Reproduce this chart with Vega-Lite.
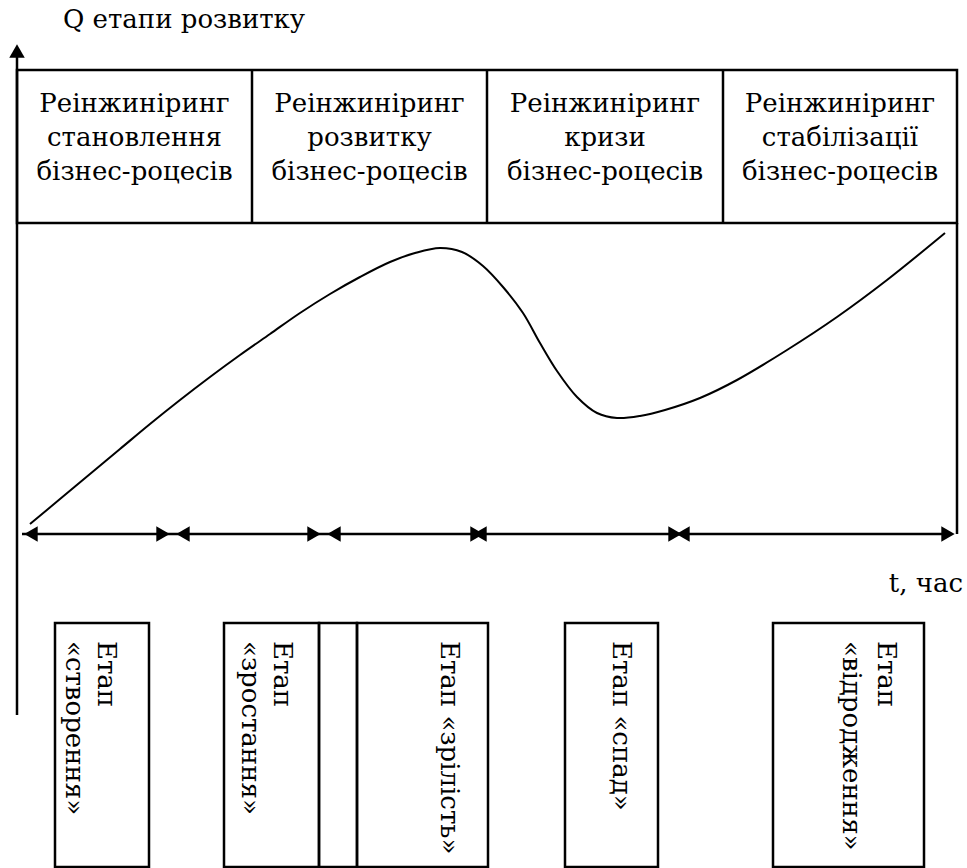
{
  "$schema": "https://vega.github.io/schema/vega-lite/v6.json",
  "width": 967,
  "height": 868,
  "padding": 0,
  "autosize": "none",
  "background": "white",
  "config": {"view": {"stroke": null}},
  "datasets": {
    "curve": [
      {"x": 30, "y": 524}, {"x": 60, "y": 499}, {"x": 90, "y": 474}, {"x": 120, "y": 449},
      {"x": 150, "y": 424}, {"x": 180, "y": 400}, {"x": 210, "y": 377}, {"x": 240, "y": 355},
      {"x": 270, "y": 334}, {"x": 300, "y": 313}, {"x": 330, "y": 294}, {"x": 360, "y": 277},
      {"x": 390, "y": 262}, {"x": 415, "y": 253}, {"x": 440, "y": 248}, {"x": 462, "y": 252},
      {"x": 483, "y": 266}, {"x": 503, "y": 287}, {"x": 523, "y": 313}, {"x": 540, "y": 343},
      {"x": 557, "y": 371}, {"x": 577, "y": 397}, {"x": 597, "y": 413}, {"x": 617, "y": 418},
      {"x": 640, "y": 416}, {"x": 665, "y": 410}, {"x": 700, "y": 398}, {"x": 737, "y": 380},
      {"x": 787, "y": 350}, {"x": 837, "y": 317}, {"x": 887, "y": 280}, {"x": 945, "y": 233}
    ],
    "rules": [
      {"x": 17, "y": 50, "x2": 17, "y2": 715},
      {"x": 252, "y": 70, "x2": 252, "y2": 223},
      {"x": 487, "y": 70, "x2": 487, "y2": 223},
      {"x": 723, "y": 70, "x2": 723, "y2": 223},
      {"x": 957, "y": 223, "x2": 957, "y2": 534},
      {"x": 22, "y": 534, "x2": 950, "y2": 534}
    ],
    "rects": [
      {"x": 17, "x2": 957, "y": 70, "y2": 223},
      {"x": 55, "x2": 149, "y": 623, "y2": 867},
      {"x": 224, "x2": 319, "y": 623, "y2": 867},
      {"x": 319, "x2": 357, "y": 623, "y2": 867},
      {"x": 357, "x2": 488, "y": 623, "y2": 867},
      {"x": 565, "x2": 658, "y": 623, "y2": 867},
      {"x": 773, "x2": 924, "y": 623, "y2": 867}
    ],
    "arrows": [
      {"x": 17, "y": 51, "dir": "up"},
      {"x": 31, "y": 534, "dir": "left"},
      {"x": 163, "y": 534, "dir": "right"},
      {"x": 183, "y": 534, "dir": "left"},
      {"x": 314, "y": 534, "dir": "right"},
      {"x": 334, "y": 534, "dir": "left"},
      {"x": 477, "y": 534, "dir": "right"},
      {"x": 480, "y": 534, "dir": "left"},
      {"x": 675, "y": 534, "dir": "right"},
      {"x": 683, "y": 534, "dir": "left"},
      {"x": 948, "y": 534, "dir": "right"}
    ],
    "toplabels": [
      {"x": 134.5, "y": 112, "t": "Реінжиніринг"},
      {"x": 134.5, "y": 146, "t": "становлення"},
      {"x": 134.5, "y": 180, "t": "бізнес-роцесів"},
      {"x": 369.5, "y": 112, "t": "Реінжиніринг"},
      {"x": 369.5, "y": 146, "t": "розвитку"},
      {"x": 369.5, "y": 180, "t": "бізнес-роцесів"},
      {"x": 605, "y": 112, "t": "Реінжиніринг"},
      {"x": 605, "y": 146, "t": "кризи"},
      {"x": 605, "y": 180, "t": "бізнес-роцесів"},
      {"x": 840, "y": 112, "t": "Реінжиніринг"},
      {"x": 840, "y": 146, "t": "стабілізації"},
      {"x": 840, "y": 180, "t": "бізнес-роцесів"}
    ],
    "stagelabels": [
      {"x": 98, "y": 641, "t": "Етап"},
      {"x": 66, "y": 641, "t": "«створення»"},
      {"x": 274, "y": 641, "t": "Етап"},
      {"x": 242, "y": 641, "t": "«зростання»"},
      {"x": 441, "y": 641, "t": "Етап «зрілість»"},
      {"x": 613, "y": 641, "t": "Етап «спад»"},
      {"x": 878, "y": 641, "t": "Етап"},
      {"x": 843, "y": 641, "t": "«відродження»"}
    ],
    "titleL": [
      {"x": 63, "y": 28, "t": "Q етапи розвитку"}
    ],
    "titleR": [
      {"x": 963, "y": 592, "t": "t, час"}
    ]
  },
  "encoding": {
    "x": {"field": "x", "type": "quantitative", "scale": {"domain": [0, 967], "nice": false, "zero": false}, "axis": null},
    "y": {"field": "y", "type": "quantitative", "scale": {"domain": [0, 868], "nice": false, "zero": false, "reverse": true}, "axis": null}
  },
  "layer": [
    {
      "data": {"name": "rects"},
      "mark": {"type": "rect", "fill": null, "fillOpacity": 0, "stroke": "black", "strokeWidth": 2.5},
      "encoding": {
        "x2": {"field": "x2"},
        "y2": {"field": "y2"}
      }
    },
    {
      "data": {"name": "rules"},
      "mark": {"type": "rule", "stroke": "black", "strokeWidth": 2.5},
      "encoding": {
        "x2": {"field": "x2"},
        "y2": {"field": "y2"}
      }
    },
    {
      "data": {"name": "curve"},
      "mark": {"type": "line", "stroke": "black", "strokeWidth": 2, "interpolate": "catmull-rom"},
      "encoding": {}
    },
    {
      "data": {"name": "arrows"},
      "mark": {"type": "point", "filled": true, "color": "black", "opacity": 1, "size": 240, "strokeWidth": 0},
      "encoding": {
        "shape": {"field": "dir", "type": "nominal", "scale": {"domain": ["left", "right", "up"], "range": ["triangle-left", "triangle-right", "triangle-up"]}, "legend": null}
      }
    },
    {
      "data": {"name": "toplabels"},
      "mark": {"type": "text", "font": "DejaVu Serif", "fontSize": 26, "align": "center", "baseline": "alphabetic", "color": "black"},
      "encoding": {"text": {"field": "t"}}
    },
    {
      "data": {"name": "stagelabels"},
      "mark": {"type": "text", "font": "DejaVu Serif", "fontSize": 26, "align": "left", "baseline": "alphabetic", "angle": 90, "color": "black"},
      "encoding": {"text": {"field": "t"}}
    },
    {
      "data": {"name": "titleL"},
      "mark": {"type": "text", "font": "DejaVu Serif", "fontSize": 26, "align": "left", "baseline": "alphabetic", "color": "black"},
      "encoding": {"text": {"field": "t"}}
    },
    {
      "data": {"name": "titleR"},
      "mark": {"type": "text", "font": "DejaVu Serif", "fontSize": 26, "align": "right", "baseline": "alphabetic", "color": "black"},
      "encoding": {"text": {"field": "t"}}
    }
  ]
}
